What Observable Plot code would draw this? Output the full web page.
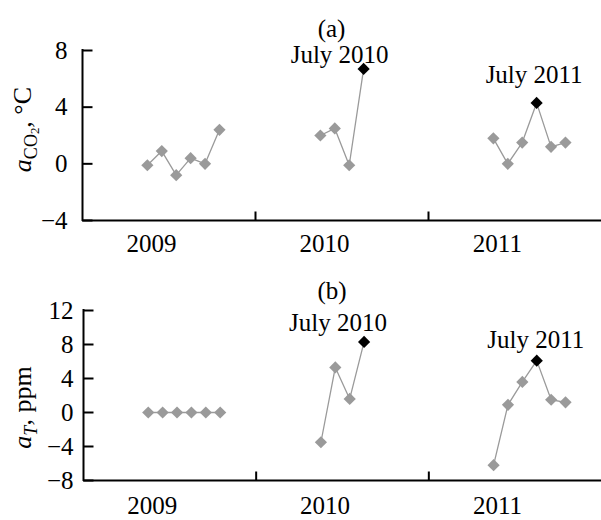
<!DOCTYPE html>
<html>
<head>
<meta charset="utf-8">
<script src="https://cdn.jsdelivr.net/npm/d3@7"></script>
<script src="https://cdn.jsdelivr.net/npm/@observablehq/plot@0.6"></script>
<style>
  body { margin: 0; background: #fff; }
  #chart { width: 601px; }
  #chart svg { display: block; }
</style>
</head>
<body>
<div id="chart"></div>
<script>
// ---- data ----
const years = [2009, 2010, 2011];
const monthNames = ["April", "May", "June", "July", "August", "September"];
const yearLabels = ["2009", "2010", "2011"];

// panel (a): a_CO2, °C
const aCO2_2009 = [-0.1, 0.9, -0.8, 0.4, 0.0, 2.4];
const aCO2_2010 = [2.0, 2.5, -0.1, 6.7];
const aCO2_2011 = [1.8, 0.0, 1.5, 4.3, 1.2, 1.5];

// panel (b): a_T, ppm
const aT_2009 = [0, 0, 0, 0, 0, 0];
const aT_2010 = [-3.5, 5.3, 1.6, 8.3];
const aT_2011 = [-6.2, 0.9, 3.6, 6.1, 1.5, 1.2];

const highlightYears = [2010, 2011];
const highlightMonth = "July";
const highlightLabels = ["July 2010", "July 2011"];

const ticksA = [-4, 0, 4, 8];
const ticksB = [-8, -4, 0, 4, 8, 12];
const titleA = "(a)";
const titleB = "(b)";
const yLabelA = ["a", "CO", "2", ", °C"];
const yLabelB = ["a", "T", ", ppm"];

// ---- scale setup (12 month slots per year, April = slot 0) ----
const slotOf = (year, m) => (year - years[0]) * 12 + m;
const xDomain = [-4.5, 31.5];
const yearSlots = years.map(y => slotOf(y, 0));
const separatorSlots = [7.5, 19.5];

function buildRows(series) {
  return years.flatMap((yr, i) =>
    series[i].map((v, j) => ({year: yr, month: monthNames[j], slot: slotOf(yr, j), value: v}))
  );
}
const rowsA = buildRows([aCO2_2009, aCO2_2010, aCO2_2011]);
const rowsB = buildRows([aT_2009, aT_2010, aT_2011]);

const hiIndex = d => d.month === highlightMonth ? highlightYears.indexOf(d.year) : -1;

const rightTick = {draw(ctx) { ctx.moveTo(0, 0); ctx.lineTo(10, 0); }};
const upTick = {draw(ctx) { ctx.moveTo(0, 0); ctx.lineTo(0, -9); }};

const GRAY = "#9a9a9a";
const FONT = "'Liberation Serif', 'Times New Roman', serif";

function panel(o) {
  const rows = o.rows;
  const hiRows = rows.filter(d => hiIndex(d) >= 0).map(d => ({...d, label: highlightLabels[hiIndex(d)]}));
  const annMarks = hiRows.map((d, i) =>
    Plot.text([d], {x: "slot", y: "value", text: "label", dx: o.ann[i][0], dy: o.ann[i][1], fontSize: 25})
  );
  return Plot.plot({
    width: 601, height: 260,
    marginLeft: o.marginLeft, marginRight: 0, marginTop: 50, marginBottom: 40,
    style: {fontFamily: FONT, fontSize: "25px", background: "white", color: "black"},
    x: {domain: xDomain},
    y: {domain: o.yDomain},
    marks: [
      Plot.axisY({ticks: o.yTicks, tickSize: 0, tickPadding: o.yPad, label: null, fontSize: 25}),
      Plot.axisX({ticks: yearSlots, tickSize: 0, tickPadding: o.xPad, label: null, fontSize: 25, dx: 4,
        tickFormat: d => yearLabels[yearSlots.indexOf(d)]}),
      Plot.ruleX([xDomain[0]], {y1: o.yDomain[0], y2: o.yDomain[1], stroke: "black", strokeWidth: 2, strokeLinecap: "square"}),
      Plot.ruleY([o.yDomain[0]], {stroke: "black", strokeWidth: 2}),
      Plot.dot(o.yTicks, {x: xDomain[0], y: d => d, symbol: rightTick, r: 1, fill: "none", stroke: "black", strokeWidth: 2}),
      Plot.dot(separatorSlots, {x: d => d, y: o.yDomain[0], symbol: upTick, r: 1, fill: "none", stroke: "black", strokeWidth: 2}),
      Plot.line(rows, {x: "slot", y: "value", z: "year", stroke: GRAY, strokeWidth: 1.3}),
      Plot.dot(rows.filter(d => hiIndex(d) < 0), {x: "slot", y: "value", symbol: "diamond2", r: 5.5, fill: GRAY, stroke: "none"}),
      Plot.dot(hiRows, {x: "slot", y: "value", symbol: "diamond2", r: 5.5, fill: "black", stroke: "none"}),
      ...annMarks,
      Plot.text([o.title], {frameAnchor: "top", dx: -10.5, dy: o.titleDy, fontSize: 25}),
      Plot.text([o.yLabelKey], {frameAnchor: "left", textAnchor: "middle", lineAnchor: "middle", rotate: -90, dx: o.ylabDx, dy: o.ylabDy, fontSize: 26})
    ]
  });
}

function richLabel(svg, key, parts) {
  for (const t of svg.querySelectorAll("text")) {
    if (t.textContent === key) {
      t.textContent = "";
      for (const p of parts) {
        const ts = document.createElementNS("http://www.w3.org/2000/svg", "tspan");
        ts.textContent = p.text;
        if (p.italic) ts.setAttribute("font-style", "italic");
        ts.setAttribute("font-size", p.size);
        if (p.dy) ts.setAttribute("dy", p.dy);
        t.appendChild(ts);
      }
    }
  }
}

const keyA = yLabelA.join("");
const keyB = yLabelB.join("");

const svgA = panel({
  rows: rowsA, yDomain: [-4, 8], yTicks: ticksA, marginLeft: 82, yPad: 15, xPad: 14,
  title: titleA, titleDy: -31, yLabelKey: keyA, ylabDx: -60, ylabDy: -6,
  ann: [[-24, -14], [-2.5, -28]]
});
const svgB = panel({
  rows: rowsB, yDomain: [-8, 12], yTicks: ticksB, marginLeft: 83, yPad: 10, xPad: 16,
  title: titleB, titleDy: -29, yLabelKey: keyB, ylabDx: -61, ylabDy: 12,
  ann: [[-26, -19], [-1, -21]]
});

richLabel(svgA, keyA, [
  {text: yLabelA[0], italic: true, size: "26px"},
  {text: yLabelA[1], size: "18px", dy: "6"},
  {text: yLabelA[2], size: "13px", dy: "2"},
  {text: yLabelA[3], size: "26px", dy: "-8"}
]);
richLabel(svgB, keyB, [
  {text: yLabelB[0], italic: true, size: "26px"},
  {text: yLabelB[1], italic: true, size: "18px", dy: "6"},
  {text: yLabelB[2], size: "26px", dy: "-6"}
]);

document.getElementById("chart").append(svgA, svgB);
</script>
</body>
</html>
